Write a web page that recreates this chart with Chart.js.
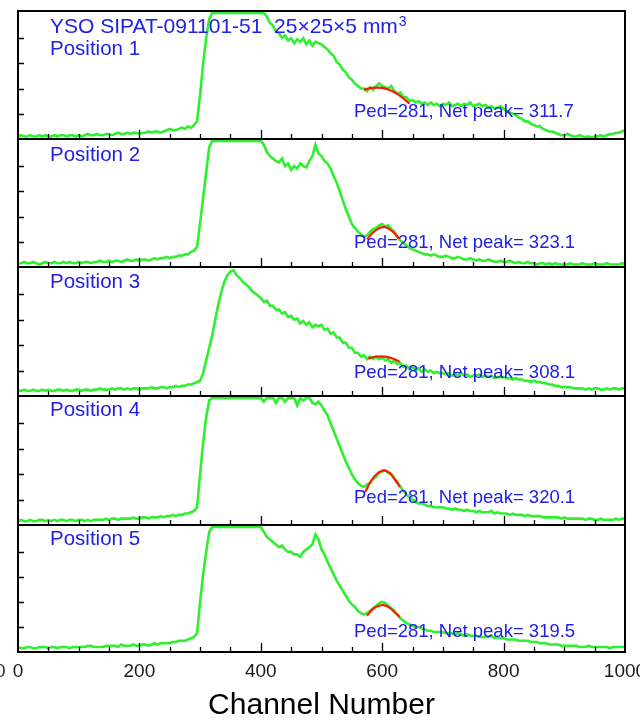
<!DOCTYPE html>
<html><head><meta charset="utf-8">
<script src="https://cdn.jsdelivr.net/npm/chart.js@4.4.1/dist/chart.umd.min.js"></script>
<style>
html,body{margin:0;padding:0;background:#fff;width:640px;height:721px;overflow:hidden;position:relative}
canvas{position:absolute;left:0}
</style></head><body>
<canvas id="c0"></canvas><canvas id="c1"></canvas><canvas id="c2"></canvas><canvas id="c3"></canvas><canvas id="c4"></canvas>
<script>
// ---------- data ----------
const channels = Array.from({length:201},(_, i)=>i*5);   // channel grid 0..1000, step 5
const s1 = [2,3,2,2,3,2,2,3,2,3,2,2,3,2,3,3,2,3,3,2,
 3,2,3,4,3,3,4,3,3,4,4,3,4,5,4,4,5,4,5,5,
 4,5,5,6,5,6,6,5,6,7,8,7,7,8,9,8,10,9,11,14,
 35,60,80,95,100,100,100,100,100,100,100,100,100,100,100,100,100,100,100,100,
 100,100,97,92,90,85,84,80,82,78,80,76,79,77,80,75,78,74,77,76,
 75,73,71,68,66,61,59,55,53,49,47,44,42,40,40,38,41,39,42,44,
 42,41,40,42,38,36,37,33,33,30,31,29,30,28,29,27,29,27,28,26,
 28,27,29,26,27,28,26,28,27,29,26,27,28,26,27,25,26,24,25,26,
 24,22,21,20,19,17,16,14,14,12,11,10,10,8,7,6,6,5,4,3,
 3,4,3,2,2,3,2,1.5,2,1,2,2,3,2,3,4,4,5,5,6,
 7];
const s2 = [3,3,4,3,3,4,3,2,3,4,3,3,4,3,3,4,3,4,3,3,
 4,3,4,4,3,4,4,5,4,4,5,4,5,5,4,5,6,5,5,6,
 5,6,6,5,6,7,6,7,7,8,7,8,8,9,9,10,10,12,13,16,
 35,55,75,95,100,100,100,100,100,100,100,100,100,100,100,100,100,100,100,100,
 100,97,91,88,86,84,83,86,80,82,77,80,78,82,80,79,84,88,97,90,
 88,84,82,78,72,67,60,53,46,40,34,31,28,26,24,25,28,30,31,33,
 34,32,33,30,28,24,21,19,17,15,14,13,12,11,10,10,9,10,9,8,
 8,9,8,7,7,8,7,6,6,7,6,5,6,5,5,6,5,4,4,5,
 4,4,5,4,3,4,3,3,4,3,3,2,3,3,2,3,2,3,2,2,
 2,2,3,2,2,2,3,2,2,2,3,2,2,2,3,2,2,2,2,3,
 2];
const s3 = [4,4,5,4,4,5,4,4,5,4,5,4,4,5,5,4,5,4,4,5,
 5,4,5,5,4,5,5,6,5,5,5,6,5,6,6,5,6,5,6,6,
 5,6,6,6,7,6,6,7,7,6,7,7,8,7,8,8,9,9,10,11,
 12,18,28,38,48,60,72,82,90,95,98,99,95,93,90,88,86,83,81,79,
 77,74,75,71,71,68,68,65,66,62,63,60,61,57,59,56,58,54,56,55,
 56,52,53,49,50,46,46,42,42,38,38,34,34,31,32,29,31,29,31,29,
 30,28,29,26,28,25,26,23,24,21,23,20,22,19,21,19,20,18,19,18,
 18,17,18,16,17,16,18,16,17,15,16,16,17,15,16,15,16,14,15,15,
 15,14,14,13,14,13,13,12,12,11,12,11,11,10,10,9,9,8,8,7,
 7,7,7,6,6,6,6,5,6,5,6,6,5,5,6,5,6,6,5,6,
 6];
const s4 = [3,4,3,3,4,3,3,4,4,3,4,3,4,3,4,4,3,4,4,3,
 4,4,3,4,3,4,4,4,4,5,4,5,5,4,5,5,5,5,6,5,
 5,6,6,5,6,6,6,7,6,7,7,8,7,8,8,9,9,10,11,14,
 40,65,85,98,100,100,100,100,100,100,100,100,100,100,100,100,100,100,100,100,
 100,97,100,100,100,96,100,100,97,100,100,100,94,100,98,100,100,96,95,97,
 94,90,86,80,74,68,62,56,50,45,40,36,33,31,30,32,33,36,38,41,
 42,43,41,40,37,34,30,27,24,22,20,18,17,17,16,15,15,14,14,14,
 14,13,13,12,13,12,12,11,12,11,11,10,11,10,10,10,11,9,10,9,
 9,9,8,9,8,8,8,7,8,7,7,7,7,6,6,6,6,6,6,5,
 6,5,5,5,5,5,5,4,5,5,4,4,5,4,4,4,4,5,4,5,
 5];
const s5 = [4,3,3,4,4,3,3,4,4,4,3,4,4,3,4,4,4,3,4,4,
 4,4,4,5,5,4,4,4,4,5,5,5,5,4,6,5,5,5,6,5,
 5,6,6,5,6,7,6,7,7,7,7,8,8,9,9,9,10,11,12,15,
 40,62,80,96,100,100,100,100,100,100,100,100,100,100,100,100,100,100,100,100,
 100,96,92,90,88,86,84,85,82,80,80,78,78,76,80,82,84,86,94,90,
 82,78,72,67,62,57,53,49,45,41,38,36,33,31,30,31,33,35,37,39,
 40,39,37,35,33,30,27,25,23,22,21,20,20,19,18,17,17,16,16,16,
 16,15,15,15,14,15,14,13,14,13,13,13,12,12,12,12,13,11,12,11,
 11,10,10,10,10,9,9,9,9,8,8,8,7,7,7,6,6,6,6,5,
 5,5,5,5,5,4,4,4,5,4,4,4,4,4,4,3,4,4,4,4,
 4];
// fitted peaks (red)
const fit1Ch = [570,580,590,600,610,620,630,640,645], fit1 = [39,40.3,40.8,40.5,39.2,37,34,30,28];
const fit2Ch = [575,585,595,605,615,625,628],         fit2 = [22,27.5,30.8,31.5,29,24,22.5];
const fit3Ch = [577,587,597,607,617,629],             fit3 = [29.5,30.8,31.2,30.8,29.5,27];
const fit4Ch = [572,582,592,602,612,622,629],         fit4 = [26,35,40.5,43,41,35,30];
const fit5Ch = [575,585,595,602,612,622,629],         fit5 = [29,34.5,37,37.5,35.5,31,28];
// texts
const titleText = 'YSO SIPAT-091101-51  25\u00d725\u00d75 mm';
const titleSup = '3';
const positionLabels = ['Position 1','Position 2','Position 3','Position 4','Position 5'];
const pedLabels = ['Ped=281, Net peak= 311.7','Ped=281, Net peak= 323.1','Ped=281, Net peak= 308.1','Ped=281, Net peak= 320.1','Ped=281, Net peak= 319.5'];
const xMinorTicks = [50,100,150,200,250,300,350,400,450,500,550,600,650,700,750,800,850,900,950];
const xMajorTicks = [200,400,600,800];
const yTicks = [20,40,60,80];
const xAxisTitle = 'Channel Number';

const series = [s1,s2,s3,s4,s5];
const fitsCh = [fit1Ch,fit2Ch,fit3Ch,fit4Ch,fit5Ch];
const fits = [fit1,fit2,fit3,fit4,fit5];

// ---------- layout ----------
const edges = [11,139,267,396,525,654];
const posBase = [44,22,21,20,20];
const pedBase = [106,109,111,107,112];
const FONT = '"Liberation Sans", Arial, sans-serif';
const BLUE = '#2020e6';

const panelPlugin = {
  id:'panel',
  afterDatasetsDraw(chart, args, o){
    const {ctx, chartArea:{left,right,top,bottom}, scales:{x,y}} = chart;
    ctx.save();
    ctx.strokeStyle = '#000';
    ctx.lineWidth = 1.3;
    ctx.beginPath();
    xMinorTicks.forEach(t=>{
      const px = Math.round(x.getPixelForValue(t))+0.5;
      const len = xMajorTicks.includes(t) ? 9 : 5;
      ctx.moveTo(px,bottom); ctx.lineTo(px,bottom-len);
    });
    yTicks.forEach(v=>{
      const py = Math.round(y.getPixelForValue(v))+0.5;
      ctx.moveTo(left,py); ctx.lineTo(left+6,py);
    });
    ctx.stroke();
    ctx.lineWidth = 2;
    ctx.strokeRect(left,top,right-left,bottom-top);
    ctx.fillStyle = BLUE;
    ctx.textBaseline = 'alphabetic';
    ctx.textAlign = 'left';
    if (o.title) {
      ctx.font = '21px ' + FONT;
      ctx.fillText(o.title, 50, top + 22);
      const w = ctx.measureText(o.title).width;
      ctx.font = '14px ' + FONT;
      ctx.fillText(o.sup, 50 + w + 1, top + 15);
    }
    ctx.font = '20.5px ' + FONT;
    ctx.fillText(o.pos, 50, top + o.posBase);
    ctx.font = '18.5px ' + FONT;
    ctx.fillText(o.ped, 354, top + o.pedBase);
    if (o.edgeLabel) {
      ctx.fillStyle = '#334';
      ctx.font = '19px ' + FONT;
      ctx.textBaseline = 'middle';
      ctx.fillText('0', -5, bottom + 20);
    }
    ctx.restore();
  }
};

for (let i=0;i<5;i++){
  const last = i===4;
  const cv = document.getElementById('c'+i);
  const topPad = 4;
  const h = last ? (725 - (edges[i]-topPad)) : (edges[i+1]-edges[i]+8);
  cv.width = 640; cv.height = h;
  cv.style.top = (edges[i]-topPad)+'px';
  const green = channels.map((c,k)=>({x:c,y:series[i][k]}));
  const red = fitsCh[i].map((c,k)=>({x:c,y:fits[i][k]}));
  new Chart(cv, {
    type:'line',
    data:{datasets:[
      {data:red, borderColor:'#ff1a00', borderWidth:2.2, pointRadius:0, tension:0.4, fill:false},
      {data:green, borderColor:'#2ef02e', borderWidth:2.6, pointRadius:0, tension:0, fill:false}
    ]},
    options:{
      responsive:false, animation:false, events:[],
      layout:{padding:{left:18,right:15,top:topPad,bottom:last?0:4}},
      plugins:{legend:{display:false}, tooltip:{enabled:false},
        panel:{title: i===0?titleText:null, sup:titleSup, pos:positionLabels[i], ped:pedLabels[i], posBase:posBase[i], pedBase:pedBase[i], edgeLabel:last}},
      scales:{
        x:{type:'linear', min:0, max:1000, display:last,
           grid:{display:false, drawTicks:false}, border:{display:false},
           ticks:{stepSize:200, padding:10, color:'#1a1a1a', font:{family:FONT, size:19, lineHeight:1}, maxRotation:0, autoSkip:false,
                  callback:(v)=>String(v)},
           title:{display:last, text:xAxisTitle, color:'#000', font:{family:FONT, size:30, lineHeight:1}, padding:{top:0,bottom:4}},
           afterFit(s){ s.paddingLeft = 0; s.paddingRight = 0; }},
        y:{type:'linear', min:0, max:101.5, display:false}
      }
    },
    plugins:[panelPlugin]
  });
}
</script>
</body></html>
